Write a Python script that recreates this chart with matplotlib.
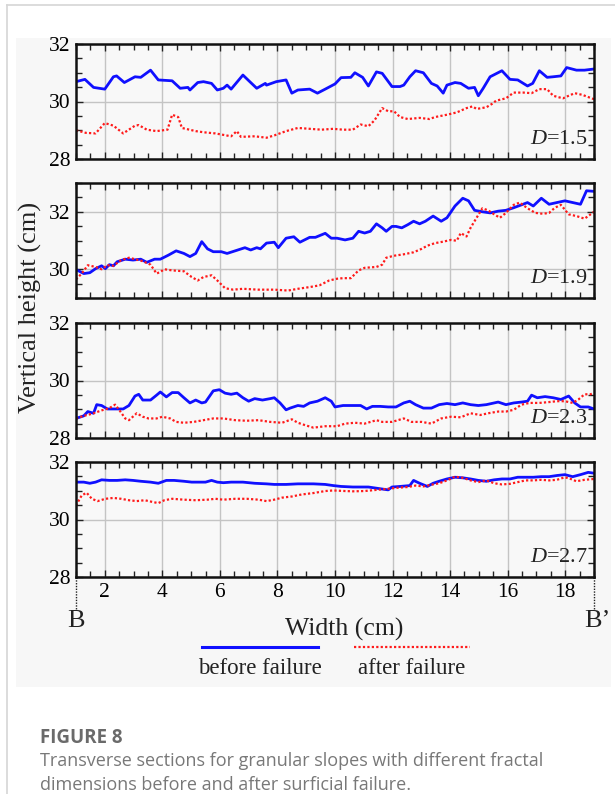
import matplotlib
matplotlib.use("Agg")
import matplotlib.pyplot as plt
from matplotlib.lines import Line2D
from matplotlib.patches import Rectangle
from matplotlib.ticker import MultipleLocator

plt.rcParams['font.family'] = ['Liberation Serif', 'DejaVu Serif']
plt.rcParams['mathtext.fontset'] = 'custom'
plt.rcParams['mathtext.rm'] = 'Liberation Serif'
plt.rcParams['mathtext.it'] = 'Liberation Serif:italic'

# ---------------- data (width in cm, height in cm) ----------------
x_b15 = [1.00, 1.31, 1.61, 2.00, 2.30, 2.41, 2.68, 3.05, 3.25, 3.59, 3.86, 4.34, 4.62, 4.89, 4.96,
         5.23, 5.43, 5.71, 5.91, 6.12, 6.25, 6.39, 6.80, 7.07, 7.28, 7.58, 7.62, 7.96, 8.30, 8.50,
         8.71, 9.12, 9.39, 9.66, 10.00, 10.21, 10.55, 10.69, 10.96, 11.16, 11.44, 11.64, 11.98,
         12.26, 12.39, 12.60, 12.80, 13.07, 13.35, 13.55, 13.76, 13.89, 14.17, 14.37, 14.64,
         14.85, 14.98, 15.15, 15.39, 15.80, 16.08, 16.35, 16.69, 16.87, 17.10, 17.37, 17.58,
         17.85, 18.05, 18.39, 18.67, 19.00]
y_b15 = [30.69, 30.77, 30.49, 30.43, 30.86, 30.89, 30.66, 30.86, 30.84, 31.09, 30.75, 30.72, 30.46,
         30.49, 30.40, 30.66, 30.69, 30.63, 30.40, 30.46, 30.57, 30.43, 30.92, 30.66, 30.46, 30.63,
         30.57, 30.69, 30.75, 30.29, 30.40, 30.43, 30.29, 30.43, 30.61, 30.83, 30.84, 31.00, 30.84,
         30.54, 31.03, 30.98, 30.52, 30.52, 30.57, 30.86, 31.07, 31.00, 30.63, 30.54, 30.29, 30.57,
         30.66, 30.63, 30.46, 30.49, 30.20, 30.46, 30.86, 31.07, 30.77, 30.75, 30.54, 30.63, 31.07,
         30.84, 30.86, 30.89, 31.18, 31.09, 31.09, 31.13]

x_a15 = [1.00, 1.34, 1.68, 2.00, 2.30, 2.64, 3.05, 3.18, 3.46, 3.80, 4.18, 4.34, 4.55, 4.68, 5.16,
         5.43, 5.84, 6.39, 6.59, 6.73, 7.21, 7.62, 7.89, 8.30, 8.71, 9.12, 9.53, 9.94, 10.28, 10.62,
         10.89, 11.16, 11.37, 11.64, 11.85, 12.05, 12.26, 12.53, 12.94, 13.28, 13.48, 13.89, 14.23,
         14.57, 14.78, 14.92, 15.26, 15.46, 15.60, 15.94, 16.21, 16.55, 16.83, 17.10, 17.37, 17.58,
         17.92, 18.12, 18.33, 18.60, 19.00]
y_a15 = [29.00, 28.91, 28.89, 29.25, 29.16, 28.89, 29.16, 29.18, 29.02, 28.97, 29.02, 29.54, 29.46,
         29.08, 28.97, 28.93, 28.89, 28.79, 28.97, 28.77, 28.79, 28.74, 28.82, 28.97, 29.08, 29.05,
         29.02, 29.05, 29.02, 29.02, 29.20, 29.14, 29.34, 29.77, 29.66, 29.66, 29.46, 29.39, 29.43,
         29.39, 29.46, 29.54, 29.62, 29.77, 29.83, 29.74, 29.80, 29.92, 30.03, 30.11, 30.31, 30.31,
         30.29, 30.43, 30.43, 30.20, 30.11, 30.20, 30.29, 30.23, 30.08]

x_b19 = [1.00, 1.27, 1.48, 1.68, 1.89, 2.02, 2.16, 2.30, 2.43, 2.71, 2.98, 3.25, 3.46, 3.73, 3.93,
         4.21, 4.48, 4.75, 4.96, 5.16, 5.37, 5.57, 5.77, 6.05, 6.25, 6.53, 6.87, 7.07, 7.28, 7.41,
         7.62, 7.89, 8.03, 8.30, 8.57, 8.78, 9.12, 9.32, 9.66, 9.87, 10.07, 10.35, 10.62, 10.82,
         11.03, 11.23, 11.44, 11.64, 11.78, 11.98, 12.12, 12.32, 12.53, 12.73, 12.94, 13.14, 13.41,
         13.69, 13.89, 14.17, 14.44, 14.64, 14.85, 15.12, 15.39, 15.67, 15.94, 16.21, 16.48, 16.69,
         16.89, 17.17, 17.44, 17.71, 17.99, 18.26, 18.53, 18.74, 19.00]
y_b19 = [29.99, 29.85, 29.88, 30.02, 30.12, 30.02, 30.16, 30.12, 30.26, 30.35, 30.32, 30.35, 30.24,
         30.35, 30.35, 30.49, 30.64, 30.55, 30.44, 30.55, 30.96, 30.71, 30.61, 30.61, 30.55, 30.64,
         30.75, 30.67, 30.75, 30.71, 30.91, 30.94, 30.75, 31.08, 31.13, 30.94, 31.11, 31.11, 31.25,
         31.08, 31.08, 31.02, 31.08, 31.32, 31.26, 31.32, 31.58, 31.44, 31.32, 31.49, 31.49, 31.44,
         31.55, 31.67, 31.58, 31.67, 31.85, 31.67, 31.79, 32.20, 32.47, 32.38, 32.05, 32.00, 31.96,
         32.02, 32.05, 32.14, 32.24, 32.32, 32.20, 32.47, 32.26, 32.32, 32.38, 32.32, 32.26, 32.73,
         32.71]

x_a19 = [1.00, 1.20, 1.41, 1.68, 1.89, 2.09, 2.30, 2.57, 2.84, 3.05, 3.32, 3.59, 3.80, 3.93, 4.07,
         4.34, 4.75, 5.02, 5.23, 5.43, 5.71, 5.91, 6.18, 6.46, 6.80, 7.34, 7.89, 8.37, 8.71, 9.12,
         9.46, 9.80, 10.07, 10.28, 10.55, 10.82, 11.03, 11.44, 11.64, 11.78, 12.05, 12.39, 12.73,
         13.01, 13.21, 13.48, 13.76, 14.03, 14.23, 14.37, 14.57, 14.71, 14.92, 15.12, 15.32, 15.53,
         15.73, 15.94, 16.21, 16.42, 16.69, 16.96, 17.23, 17.44, 17.64, 17.85, 18.12, 18.39, 18.67,
         18.80, 19.00]
y_a19 = [29.65, 29.85, 30.14, 30.08, 30.00, 30.14, 30.12, 30.32, 30.40, 30.35, 30.28, 30.16, 29.85,
         29.91, 30.00, 29.96, 29.93, 29.73, 29.61, 29.73, 29.79, 29.61, 29.34, 29.29, 29.32, 29.29,
         29.29, 29.26, 29.32, 29.38, 29.44, 29.61, 29.67, 29.69, 29.69, 29.96, 30.05, 30.08, 30.16,
         30.40, 30.47, 30.52, 30.59, 30.71, 30.82, 30.91, 30.96, 31.02, 30.99, 31.26, 31.14, 31.44,
         31.79, 32.12, 32.05, 31.91, 31.79, 31.96, 32.24, 32.32, 32.12, 31.96, 31.93, 31.96, 32.14,
         32.24, 31.91, 31.85, 31.76, 31.85, 32.00]

x_b23 = [1.00, 1.27, 1.41, 1.61, 1.72, 1.89, 2.09, 2.43, 2.64, 2.84, 3.05, 3.18, 3.32, 3.59, 3.80,
         3.93, 4.14, 4.34, 4.55, 4.75, 4.96, 5.16, 5.37, 5.50, 5.77, 5.98, 6.18, 6.39, 6.59, 6.80,
         7.00, 7.21, 7.48, 7.75, 7.89, 8.09, 8.30, 8.44, 8.71, 8.91, 9.12, 9.39, 9.66, 9.87, 10.00,
         10.28, 10.62, 10.89, 11.10, 11.30, 11.57, 11.85, 12.12, 12.39, 12.60, 12.80, 13.07, 13.35,
         13.62, 13.89, 14.17, 14.44, 14.71, 14.98, 15.26, 15.67, 15.94, 16.21, 16.48, 16.69, 16.83,
         17.03, 17.30, 17.58, 17.85, 18.12, 18.33, 18.53, 18.80, 19.00]
y_b23 = [28.68, 28.77, 28.92, 28.86, 29.16, 29.13, 29.01, 29.01, 29.01, 29.13, 29.46, 29.52, 29.32,
         29.32, 29.49, 29.60, 29.43, 29.58, 29.58, 29.40, 29.22, 29.32, 29.22, 29.25, 29.64, 29.68,
         29.56, 29.52, 29.56, 29.40, 29.28, 29.37, 29.32, 29.37, 29.40, 29.22, 28.98, 29.04, 29.13,
         29.10, 29.22, 29.28, 29.40, 29.28, 29.08, 29.13, 29.13, 29.13, 29.01, 29.10, 29.10, 29.08,
         29.08, 29.22, 29.28, 29.16, 29.04, 29.04, 29.16, 29.20, 29.16, 29.22, 29.16, 29.13, 29.16,
         29.25, 29.16, 29.22, 29.25, 29.28, 29.49, 29.40, 29.44, 29.40, 29.34, 29.46, 29.22, 29.08,
         29.08, 29.01]

x_a23 = [1.00, 1.27, 1.55, 1.89, 2.16, 2.36, 2.50, 2.71, 2.84, 3.11, 3.32, 3.52, 3.80, 4.00, 4.27,
         4.48, 4.75, 5.09, 5.43, 5.77, 6.12, 6.53, 6.93, 7.34, 7.75, 8.16, 8.50, 8.71, 8.98, 9.25,
         9.66, 10.07, 10.35, 10.69, 11.03, 11.44, 11.64, 11.98, 12.39, 12.66, 13.01, 13.35, 13.69,
         14.03, 14.37, 14.71, 15.05, 15.32, 15.67, 15.94, 16.21, 16.48, 16.76, 17.10, 17.44, 17.71,
         17.99, 18.26, 18.46, 18.67, 18.87, 19.00]
y_a23 = [28.68, 28.77, 28.84, 28.96, 29.04, 29.16, 28.98, 28.68, 28.62, 28.86, 28.74, 28.68, 28.68,
         28.74, 28.68, 28.56, 28.53, 28.56, 28.62, 28.68, 28.68, 28.62, 28.60, 28.62, 28.56, 28.53,
         28.65, 28.53, 28.44, 28.36, 28.41, 28.41, 28.50, 28.53, 28.50, 28.62, 28.56, 28.56, 28.68,
         28.56, 28.56, 28.50, 28.68, 28.74, 28.72, 28.86, 28.80, 28.86, 28.92, 28.92, 28.98, 29.16,
         29.22, 29.22, 29.25, 29.28, 29.28, 29.22, 29.34, 29.52, 29.52, 29.56]

x_b27 = [1.00, 1.27, 1.48, 1.68, 1.89, 2.16, 2.43, 2.71, 2.98, 3.25, 3.59, 3.86, 4.14, 4.41, 4.75,
         5.02, 5.30, 5.50, 5.71, 5.91, 6.12, 6.39, 6.80, 7.21, 7.62, 7.89, 8.30, 8.71, 9.25, 9.66,
         9.94, 10.21, 10.62, 11.16, 11.57, 11.85, 11.98, 12.26, 12.60, 12.73, 12.94, 13.21, 13.41,
         13.62, 13.89, 14.17, 14.44, 14.71, 14.98, 15.26, 15.53, 15.80, 16.08, 16.35, 16.62, 16.89,
         17.17, 17.44, 17.71, 17.99, 18.26, 18.53, 18.80, 19.00]
y_b27 = [31.30, 31.30, 31.26, 31.30, 31.38, 31.36, 31.36, 31.38, 31.36, 31.33, 31.30, 31.26, 31.36,
         31.36, 31.33, 31.30, 31.30, 31.30, 31.36, 31.30, 31.28, 31.30, 31.30, 31.26, 31.24, 31.22,
         31.22, 31.24, 31.24, 31.22, 31.18, 31.15, 31.13, 31.13, 31.07, 31.03, 31.13, 31.15, 31.18,
         31.36, 31.26, 31.15, 31.26, 31.33, 31.41, 31.47, 31.45, 31.41, 31.36, 31.33, 31.38, 31.41,
         31.41, 31.47, 31.47, 31.47, 31.49, 31.49, 31.53, 31.56, 31.49, 31.56, 31.64, 31.61]

x_a27 = [1.00, 1.20, 1.37, 1.55, 1.75, 2.02, 2.30, 2.57, 2.84, 3.11, 3.39, 3.66, 3.86, 4.07, 4.34,
         4.75, 5.16, 5.57, 5.84, 6.12, 6.53, 6.93, 7.34, 7.62, 7.89, 8.16, 8.50, 8.84, 9.25, 9.66,
         9.94, 10.35, 10.62, 11.03, 11.44, 11.85, 12.12, 12.53, 12.80, 13.07, 13.35, 13.62, 13.89,
         14.17, 14.44, 14.71, 14.98, 15.26, 15.53, 15.80, 16.08, 16.35, 16.62, 16.89, 17.17, 17.44,
         17.71, 17.99, 18.19, 18.39, 18.67, 19.00]
y_a27 = [30.49, 30.84, 30.93, 30.72, 30.64, 30.72, 30.75, 30.72, 30.67, 30.64, 30.67, 30.61, 30.57,
         30.67, 30.72, 30.69, 30.67, 30.69, 30.72, 30.69, 30.72, 30.72, 30.69, 30.64, 30.69, 30.76,
         30.80, 30.87, 30.92, 30.99, 31.01, 30.99, 30.98, 30.99, 31.03, 31.07, 31.10, 31.13, 31.18,
         31.15, 31.21, 31.26, 31.36, 31.49, 31.45, 31.36, 31.30, 31.36, 31.26, 31.22, 31.24, 31.30,
         31.36, 31.36, 31.38, 31.36, 31.38, 31.47, 31.41, 31.33, 31.38, 31.41]

panel_labels = ["1.5", "1.9", "2.3", "2.7"]
panel_ylims = [(28, 32), (29, 33), (28, 32), (28, 32)]
panel_yticks = [[28, 30, 32], [30, 32], [28, 30, 32], [28, 30, 32]]
x_ticks = [2, 4, 6, 8, 10, 12, 14, 16, 18]
legend_labels = ["before failure", "after failure"]
xlabel = "Width (cm)"
ylabel = "Vertical height (cm)"
fig_title = "FIGURE 8"
caption = ["Transverse sections for granular slopes with different fractal",
           "dimensions before and after surficial failure."]

before = [(x_b15, y_b15), (x_b19, y_b19), (x_b23, y_b23), (x_b27, y_b27)]
after = [(x_a15, y_a15), (x_a19, y_a19), (x_a23, y_a23), (x_a27, y_a27)]

# ---------------- figure ----------------
W, H = 615, 794
fig = plt.figure(figsize=(W / 100, H / 100), dpi=100, facecolor='white')

# card border and grey chart background
fig.add_artist(Line2D([7 / W, 7 / W], [0, 1 - 5 / H], color='#d6d6d6', lw=1.2))
fig.add_artist(Line2D([7 / W, 1], [1 - 5 / H, 1 - 5 / H], color='#d6d6d6', lw=1.2))
fig.add_artist(Rectangle((16 / W, 1 - 687 / H), 595 / W, 649 / H, facecolor='#f7f7f7',
                         edgecolor='none', zorder=0))

BLUE = '#1010ff'
RED = '#ff1a1a'

tops = [44, 183, 323, 462]
ph = 115
left = 76 / W
width = 518 / W

axes = []
for i in range(4):
    ax = fig.add_axes([left, 1 - (tops[i] + ph) / H, width, ph / H])
    ax.set_facecolor('#f8f8f8')
    (xb, yb), (xa, ya) = before[i], after[i]
    ax.plot(xb, yb, color=BLUE, lw=2.0, zorder=3)
    ax.plot(xa, ya, color=RED, lw=1.6, ls=(0, (1, 1)), zorder=3)
    ax.set_xlim(1, 19)
    ax.set_ylim(*panel_ylims[i])
    ax.set_xticks(x_ticks)
    ax.set_yticks(panel_yticks[i])
    ax.xaxis.set_minor_locator(MultipleLocator(0.5))
    ax.yaxis.set_minor_locator(MultipleLocator(0.5))
    ax.grid(True, which='major', color='#c4c4c4', lw=1.0, zorder=1)
    ax.tick_params(which='both', direction='in', top=True, right=True, width=1.0,
                   labelsize=15.5, pad=4, color='#222222')
    ax.tick_params(which='major', length=5)
    ax.tick_params(which='minor', length=4)
    for s in ax.spines.values():
        s.set_linewidth(1.8)
        s.set_color('#111111')
        s.set_zorder(4)
    if i < 3:
        ax.tick_params(labelbottom=False)
    ax.text(0.988, 0.09, r'$\mathit{D}$=' + panel_labels[i], transform=ax.transAxes,
            ha='right', va='bottom', fontsize=16, color='#222222', zorder=5)
    axes.append(ax)

axb = axes[-1]
tr = axb.get_xaxis_transform()
for xv in (1, 19):
    axb.plot([xv, xv], [0, -0.29], transform=tr, color='#222222', lw=1.0, ls=(0, (1, 1)),
             clip_on=False)
axb.text(1, -0.38, 'B', transform=tr, ha='center', va='center', fontsize=19, color='#222222')
axb.text(19.1, -0.38, 'B\u2019', transform=tr, ha='center', va='center', fontsize=19,
         color='#222222')

fig.text(344 / W, 1 - 629 / H, xlabel, ha='center', va='center', fontsize=18.5, color='#222222')
fig.text(30 / W, 1 - 307 / H, ylabel, ha='center', va='center', rotation=90, fontsize=19,
         color='#222222')

# legend (lines above labels)
ly = 1 - 647 / H
fig.add_artist(Line2D([202 / W, 318 / W], [ly, ly], color=BLUE, lw=2.2))
fig.add_artist(Line2D([354 / W, 470 / W], [ly, ly], color=RED, lw=1.6, ls=(0, (1, 1))))
fig.text(260 / W, 1 - 668 / H, legend_labels[0], ha='center', va='center', fontsize=16.5,
         color='#222222')
fig.text(412 / W, 1 - 668 / H, legend_labels[1], ha='center', va='center', fontsize=16.5,
         color='#222222')

# caption
fig.text(40 / W, 1 - 738 / H, fig_title, ha='left', va='center', fontsize=13.5, fontweight='bold',
         color='#6a6a6a', family=['Open Sans', 'DejaVu Sans'])
fig.text(40 / W, 1 - 761 / H, caption[0], ha='left', va='center', fontsize=13,
         color='#787878', family=['Open Sans', 'DejaVu Sans'])
fig.text(40 / W, 1 - 785 / H, caption[1], ha='left', va='center', fontsize=13,
         color='#787878', family=['Open Sans', 'DejaVu Sans'])

fig.savefig('out.png', dpi=100, facecolor='white')
